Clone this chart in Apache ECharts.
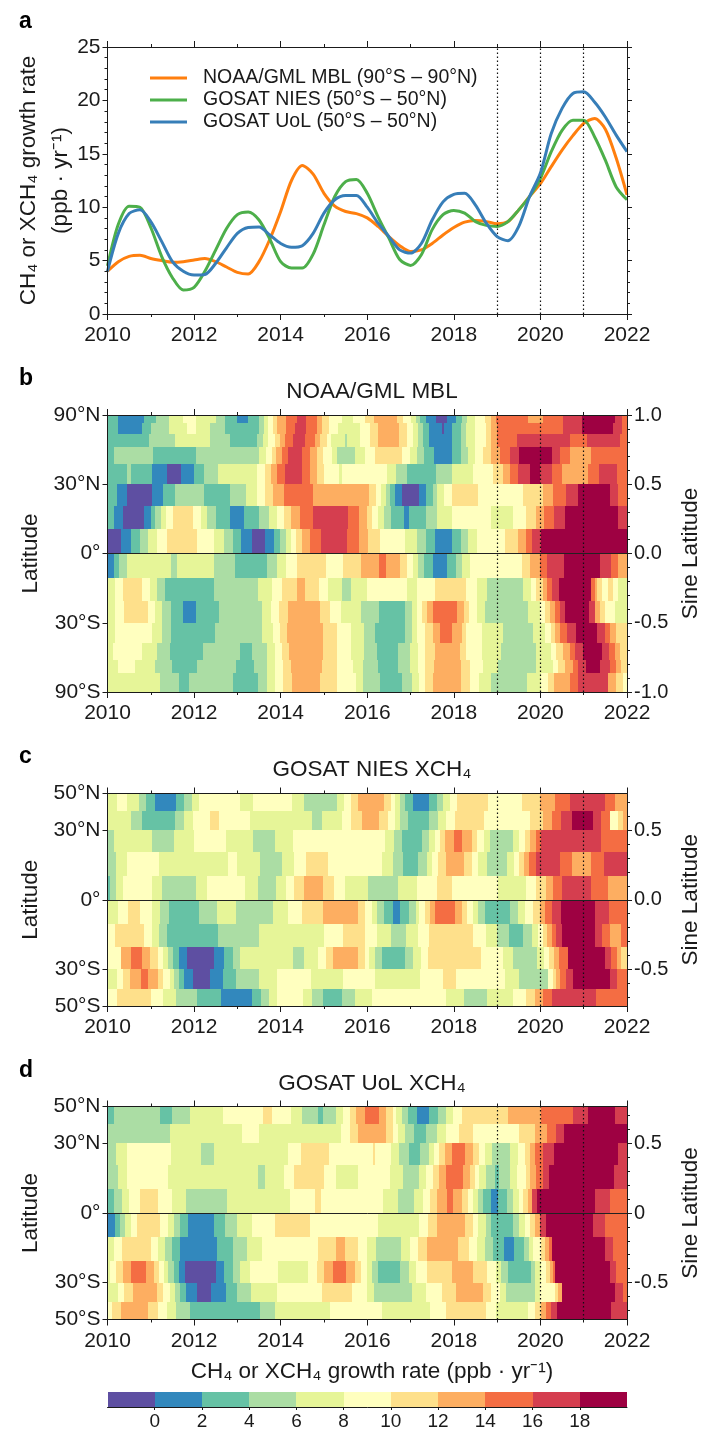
<!DOCTYPE html>
<html><head><meta charset="utf-8">
<style>html,body{margin:0;padding:0;background:#fff}#c{width:701px;height:1429px}</style>
<script src="https://cdn.jsdelivr.net/npm/echarts@6/dist/echarts.min.js"></script>
</head><body><div id="c"></div>
<script>
// ---------- panel a : growth-rate curves, read every quarter from Jan 2010 to Jan 2022 ----------
const noaaValues=[4,4.9,5.4,5.5,5.2,5,4.85,4.9,5.05,5.2,4.9,4.4,3.9,3.75,4.9,7,9.6,12.5,13.9,13.1,11.3,10.1,9.6,9.4,9,8.2,7.25,6.4,5.85,6,6.6,7.4,8.1,8.6,8.75,8.65,8.45,8.65,9.75,11,12.2,13.8,15.35,16.7,17.85,18.3,17.3,14.6,11.15];
const niesValues=[4.5,8.4,10.1,10,8.1,5.4,3.4,2.25,2.5,4,6,8,9.3,9.55,8.8,7,4.9,4.3,4.3,5.6,8.35,11,12.4,12.6,11.3,9.1,7.1,5.1,4.55,5.55,7.9,9.3,9.7,9.45,8.65,8.3,8.2,8.65,9.75,11,12.7,15.2,17.2,18.15,18.15,16.6,14.4,11.9,10.7];
const uolValues=[4,7.55,9.4,9.75,8.65,6.8,4.9,4,3.65,3.7,4.75,6.2,7.55,8.1,8.15,7.4,6.6,6.25,6.4,7.55,9.45,10.7,11.1,11.1,10,8.5,7.25,6,5.7,6.6,8.8,10.5,11.2,11.3,10.2,8.5,7.25,6.85,8.2,11,13.2,16.9,19.25,20.65,20.8,19.85,18.45,16.75,15.2];
const firstYear=2010, lastYear=2022;

// ---------- heat panels : each row is value, end-month (months since Jan 2010), value, end-month ... ----------
const noaaLatEdges=[90,70,60,50,40,30,20,10,0,-10,-20,-30,-40,-50,-60,-90];
const noaaRows=[
[3,3,1,10,3,13.5,5,17,7,21,9,24.5,7,30,5,32.5,3,36,1,39,3,42,5,43.5,7,44.5,9,46,11,47,13,49.5,15,52.5,17,55,15,58,13,59.5,11,61.5,9,65,7,68,9,71.4,11,74,13,80.3,11,82,9,84.2,7,85.5,5,86.6,3,88.4,1,91,-1,94,1,96.7,3,98.4,5,99.7,7,101.8,9,104.6,11,106.4,13,107.8,15,116.6,13,120.8,15,126.3,17,131.4,19,140.6,17,142.5,15,144],
[3,3,1,9.5,3,12,5,17,7,22,9,24.5,7,28.5,5,32.5,3,42,5,43.5,7,44.5,9,46,11,47,13,49.5,15,52,17,55,15,58,13,59.5,11,61.5,9,64,7,70,9,72.7,11,75,13,80.9,11,82.9,9,84.7,7,86.1,5,87.5,3,89.2,1,92.6,-1,93.2,1,95.4,3,98.1,5,99.5,7,101.8,9,105,11,106.4,13,108,15,126.3,17,131.4,19,140,17,142.5,15,144],
[3,11.6,5,18.7,7,28.4,5,34,3,41.4,5,43.2,7,44.6,9,46.4,11,47.8,13,49.2,15,51.5,17,54.8,15,57.5,13,59,11,60.8,9,62,7,65.8,5,66.4,7,70,9,72.7,11,75,13,80.9,11,82.9,9,84.7,7,86.1,5,87.5,3,89.2,1,95.4,3,98.1,5,99.5,7,101.8,9,105,11,106.4,13,108,15,113.5,17,128.1,15,132.8,17,142,15,144],
[3,1.8,5,12.6,3,24.6,5,42.1,7,44,9,45.5,11,46.7,13,48.3,15,50.1,17,53.8,15,56.1,13,58,11,59.8,9,62.1,7,63.7,5,68.6,7,71.4,9,74.1,11,81.5,9,83.8,7,85.9,5,87.7,3,90.5,1,95.4,3,97.9,5,100,7,101.8,9,104.1,11,106.4,13,108.9,15,111.5,17,114.1,19,123.1,17,125.4,15,128.1,13,134.1,15,144],
[3,5.4,5,6.5,3,12.3,1,16.6,-1,20.4,1,24.1,3,26.8,5,30.7,7,41.4,9,43.7,11,45.2,13,46.9,15,49.2,17,53.8,15,56.1,13,58,11,60,9,64.3,7,64.9,9,77.4,7,79.9,5,83.1,3,91,5,95.4,7,101.4,9,106.9,11,109.7,13,111.7,15,113.8,17,117.2,19,119.8,17,123.3,15,126.1,13,133.2,15,136.3,17,141.1,15,144],
[3,2.6,1,5.4,-1,12.3,1,15.3,3,18.7,5,26.8,3,34,5,38.4,7,41.4,9,43.7,11,46,13,48.8,15,56.9,13,72.6,11,74.3,9,75.7,7,77.2,5,78.3,3,79.7,1,81.5,-1,86.4,1,88.3,3,90.1,5,91.4,7,93.2,9,95.6,11,102.7,9,115.2,11,120.6,13,123.5,15,127.2,17,130.4,19,139.2,17,141.5,15,144],
[3,1.7,1,4.2,-1,10.2,1,12,3,13.2,5,14.8,7,16.2,9,18.1,11,23.6,9,25.9,7,27.7,5,30.1,3,34,1,37.7,3,42.1,5,44.9,7,46.9,9,48.9,11,50.9,13,53.4,15,56.9,17,66.8,15,69.8,13,71.8,11,73.2,9,75,7,76.6,5,78.5,3,82.2,1,83.6,3,88.3,5,91.4,7,95.4,9,106.4,7,112.3,9,116,11,118.7,13,120.9,15,123.7,17,126.8,19,141.5,17,144],
[-1,3.7,1,6.5,3,8.9,5,11.1,7,13.7,9,16.6,11,24.9,9,29.4,7,32.3,5,34.7,3,36.9,1,40.1,-1,43.7,1,46.2,3,47.8,5,49.4,7,50.8,9,52.3,11,53.9,13,56,15,59.1,17,66.5,15,69.8,13,72.3,11,75.5,9,82.4,7,85.9,5,88.2,3,90.9,1,95.6,3,98.1,5,100,7,102.3,9,110.1,11,113.8,13,115.9,15,117.8,17,120.3,19,144],
[1,1.7,3,3.3,5,5.4,7,17.6,5,19.4,7,29.5,5,35.4,3,44.3,5,47.1,7,49.5,9,52.4,11,60.6,9,65.2,11,70.2,13,75.3,15,77.2,13,81,11,83.1,9,84.6,7,86.1,5,87.7,3,90.3,1,94,3,96.5,5,98.3,7,100.4,9,115,11,117.2,13,119.8,15,121.7,17,126.5,19,136.6,17,139.7,15,141.5,13,144],
[7,2.1,9,4.2,11,9.5,9,11.8,7,13.8,5,16,3,29.5,5,41.8,7,45.5,9,48.3,11,52.4,13,54.8,11,58.5,9,61.2,7,64.9,5,67.4,7,72,9,82.9,7,85.7,9,90.7,11,99.3,9,102.3,7,105.2,5,115.2,7,117.5,9,118.9,11,120.6,13,121.9,15,123.3,17,125.1,19,134.1,15,135.1,13,135.7,11,137.1,9,138.8,11,140.1,9,141.5,7,144],
[7,2.1,9,4.6,11,11.1,9,13.2,7,15,5,17.5,3,20.9,1,24.6,3,30.9,5,42.8,7,45.2,9,47.6,11,49.9,13,58.9,11,61.7,9,64.6,7,70.2,5,75.2,3,82.4,5,84.5,7,85.7,9,87.3,11,88.7,13,90.3,15,96.9,13,98.8,11,100.3,9,102.3,7,104.6,5,116.6,7,119.8,9,121.2,11,122.6,13,124,15,125.4,17,126.9,19,133.5,17,135.1,13,136.4,11,137.8,9,140.6,7,144],
[7,2.1,9,12.3,7,15,5,17.5,3,29.8,5,42.8,7,45.8,9,47.8,11,49.7,13,59.8,11,63.5,9,67.4,7,71,5,74.1,3,82.4,5,84.3,7,85.9,9,88,11,90.3,13,92.1,15,95.4,13,98.4,11,99.5,9,103.7,7,109.7,5,118,7,121.2,9,122.8,11,124,13,125.4,15,127.4,17,130,19,135.7,17,137.8,15,139.2,13,141,11,144],
[7,1.4,9,9.5,7,13.7,5,17.2,3,26.4,5,36.6,3,40,5,44.1,7,46.4,9,48.3,11,50.4,13,59.6,11,63.7,9,67.4,7,71,5,74.8,3,80.6,5,83.8,7,86.1,9,88,11,90.7,13,97.6,11,99.3,9,103.7,7,109.2,5,118.7,7,123,9,124.3,11,126.2,13,128.1,15,129.5,17,131.8,19,137.1,17,139,15,140.6,13,142,11,144],
[7,2.8,9,7.5,7,13.2,5,17.8,3,24.7,5,35.6,3,40.6,5,44.1,7,46.4,9,48.6,11,50.8,13,59.4,11,63.7,9,68.1,7,70.9,5,75,3,80.6,5,83.8,7,86.1,9,88,11,90.5,13,98.1,11,100.4,9,104.1,7,108.2,5,118.9,7,123.5,9,124.9,11,126.7,13,129,15,130.4,17,132.7,19,136.4,17,139.2,15,141,13,142.4,11,144],
[7,14.6,5,19.9,3,22.7,5,34.7,3,41.6,5,44.3,7,46.4,9,48.6,11,51.1,13,58.9,11,63.7,9,68.9,7,70.9,5,75.5,3,81.5,5,84.3,7,86.4,9,88,11,90.3,13,97.9,11,100.4,9,103,7,106.2,5,116.2,7,120.3,9,122.1,11,123.9,13,128.1,15,130.4,17,138.8,13,141,11,143,9,144]
];
const xch4LatEdges=[50,40,30,20,10,0,-10,-20,-30,-40,-50];
const niesRows=[
[7,2.6,9,5.5,7,8.8,5,10.8,3,13.2,1,18.9,3,21.2,5,23.4,7,25.5,9,36.6,7,40.2,9,51.2,7,54.5,5,63.5,7,65.6,9,67.4,11,69.3,13,76.6,11,78.5,9,79.7,7,81.2,5,82.6,3,84.6,1,89.2,3,91.4,5,93,7,94.9,9,96.9,11,105.5,9,115,11,119.8,13,124,15,128.3,17,137.8,15,140.6,13,144],
[7,6.6,5,9.5,3,18.7,5,21.2,7,23.8,9,28.4,11,30.9,9,39.5,7,56.6,5,59.4,7,64.9,9,67.4,11,70.5,13,75.3,11,77.8,9,79.7,7,81.2,5,83.4,3,89.2,5,91.7,7,93.7,9,96.3,11,104.3,9,117.2,11,120.6,13,123.3,15,125.8,17,128.8,19,134.6,17,136.9,15,139.4,9,141.5,11,143,13,144],
[5,1.7,7,12.3,5,18.5,7,24,9,32.9,7,40.4,5,46.4,7,51.3,9,76.9,7,79.4,5,81.7,3,87.3,5,89.2,7,90.7,9,92.1,11,93.5,13,96,15,98.4,13,100.9,11,102.5,9,104.3,7,106,5,112.4,7,114.1,9,115.7,11,117,13,118.7,15,120.3,17,136.9,15,144],
[5,2.3,7,5.4,9,14.3,7,33.5,9,36,7,42.3,5,48.3,7,51.7,9,54.9,11,61,9,76.2,7,79,5,82,3,86.1,5,88.5,7,90,9,91.6,11,93.9,13,98.9,11,101.1,9,102.7,7,105.1,5,110.8,7,112.6,9,114.1,11,115.4,13,116.9,15,118.7,17,125.3,15,128.8,13,134.1,15,137.5,17,144],
[3,0.7,5,2.3,7,4.2,9,12.3,7,15,5,24.5,7,27.5,9,38,7,41.6,5,46.6,7,49.4,9,51.7,11,54.5,13,59.6,11,62.8,9,65.8,7,72.3,5,80.4,7,85.9,9,91.4,11,95.5,9,108.3,7,116.1,9,118.9,11,121.5,13,123.5,15,126,17,133.9,15,138.6,13,144],
[7,2.8,9,5.8,11,9,9,12.3,7,14.6,5,17.1,3,25.5,5,30.3,7,35.6,5,46,7,49.9,9,53.8,11,59.8,13,69.3,11,71.4,9,73.2,7,74.8,5,76.6,3,79,1,81.2,3,83.6,5,85.6,7,86.4,9,88,11,89.4,13,90.9,15,96.4,13,98.2,11,99.7,9,101.2,7,102.8,5,104.6,3,111.5,5,113.8,7,115.8,9,117.9,11,119.8,13,121.4,15,123.2,17,125.8,19,135.1,17,139,15,144],
[9,2,11,10,9,12.3,7,14.4,5,16.6,3,30.5,5,42.1,7,60.1,9,65.2,11,71.4,9,74.8,7,78.5,5,82.7,7,86.1,9,89.2,11,101.4,9,104.9,7,108,5,111.4,3,115.3,5,117.8,7,119.4,9,120.6,11,121.7,13,123.1,15,124.4,17,126,19,135.1,17,137.1,15,139.2,13,142.2,15,144],
[9,3.8,13,6.5,15,9.5,13,11.9,11,13.9,9,15.3,7,16.9,5,18.1,3,19.8,1,22.1,-1,29.4,1,32.4,3,34.9,5,36.8,7,51.5,5,54.5,7,58.4,9,60.5,11,62.5,13,69.3,11,71.4,9,72.6,7,74.1,5,76,3,82.6,5,84.6,7,86.8,9,88.9,11,103.4,9,109.5,7,112.3,5,119.1,7,120.9,9,122.4,11,123.7,13,125.1,15,127.7,19,137.8,17,139.7,15,141.2,13,142.4,11,144],
[7,2.6,9,4.2,11,6.2,13,9.2,15,11.1,13,13.9,11,15.5,9,17.2,7,18.5,5,19.7,3,21.2,1,23.6,-1,28.4,1,32,3,35.6,5,42.1,7,46.9,9,56.3,7,65.2,9,74.1,7,86.6,9,92.9,11,96.5,9,110.1,7,114.1,5,122.1,9,123.5,11,124.4,13,125.4,15,127,17,128.9,19,139.4,17,141.1,15,144],
[9,2.6,11,12,9,15.3,7,19,5,24.9,3,31.4,1,40,3,42.6,5,44.8,7,47.1,9,54.1,7,56.6,5,59.6,3,65.1,5,68.6,7,73.2,9,93.8,7,98.8,5,105.1,7,112.3,9,116,11,118.4,13,120.6,15,123.1,17,135.5,15,144]
];
const uolRows=[
[3,1.9,5,14.6,3,17.8,5,22.9,7,32.1,9,43.2,11,45.7,9,50.8,7,53.8,5,58.3,3,59.6,5,63.3,7,65.2,9,67.2,11,68.9,13,71.4,15,75.2,13,77.3,11,79,9,80.1,7,81.7,5,83.2,3,85.7,1,89.2,3,91.7,5,93.7,7,95.8,9,98.4,11,110.9,13,120.1,15,129,17,133.2,19,140.8,17,144],
[5,17.2,7,37.2,9,42,7,64.6,9,67.2,11,69.5,13,77.2,11,79.2,9,80.6,7,82.4,5,85,3,88.2,5,91.4,7,93.7,9,97.4,11,101.4,9,114.1,11,118.6,13,121.9,15,124.3,17,126.6,19,144],
[5,2.3,7,5.4,9,17.6,7,25.9,5,29.6,7,50.1,9,53.6,11,61.4,9,73.5,11,74.2,9,78.6,7,80.9,5,83.6,3,86.6,5,89.1,7,90.5,9,91.9,11,93.5,13,95.6,15,99,13,101.4,11,103,9,104.6,7,106.6,5,111.7,7,113.8,9,115.7,11,117,13,118.6,15,120.6,17,123.7,19,141.5,17,144],
[5,2.8,7,5.5,9,16.7,7,41.6,5,43.7,7,48.8,9,51.7,11,60,9,63.3,7,69.5,9,70.7,9,78.3,7,81.8,5,86.3,7,88.4,9,90.3,11,91.8,13,93.7,15,98.6,13,100.4,11,101.8,9,103,7,104.8,5,107.4,3,108.6,5,111.5,7,113.4,9,115.9,11,117.2,13,118.9,15,120.6,17,122.4,19,140.3,17,144],
[3,1.9,5,4,7,6,9,9,11,13.9,9,18,7,21.8,5,33.2,7,50.6,9,57.5,11,59.1,9,76.4,7,80.4,5,84.9,7,87.5,9,89.4,11,91.2,13,94,15,95.8,13,98.4,11,100,9,101.4,7,102.8,5,104.1,3,106.4,1,108.3,3,110.8,5,112.5,7,114.1,9,115.2,11,116.6,13,117.8,17,119.1,19,135.1,17,139.4,15,144],
[1,2.1,3,3.5,5,4.9,7,6.5,9,8.3,11,14.6,9,16.9,7,18.5,5,20.1,3,22.4,1,29.5,3,32.6,5,35.8,7,40,9,46.4,11,56,9,75,7,86.4,9,88.9,11,91.2,13,99.2,11,101.2,9,102.7,7,104.9,5,106.2,3,112.4,5,114.1,7,115.7,9,117.1,11,118.6,13,120,17,121.5,19,134.6,17,138,15,144],
[7,1.7,9,4,11,12,9,13.9,7,15.8,5,17.8,3,20.1,1,30.3,3,34.9,5,38.6,7,42.7,9,58.4,11,63.3,13,65.8,11,69.5,9,71.8,7,74.3,5,81.3,7,83.8,9,86.1,11,88.7,13,97.2,11,100.2,9,102.3,7,104.6,5,106.9,3,109.9,1,112.7,3,115.4,5,116.9,7,118,9,120.3,11,121.2,13,122.4,15,123.3,19,137.8,17,140,15,144],
[7,0.7,9,2.3,11,4.2,13,6.5,15,10.6,13,12.9,11,14.4,9,15.7,7,16.9,5,18.3,3,19.7,1,21.5,-1,30.1,1,32.4,3,34.7,5,36.8,7,39.5,9,47.2,7,55.7,9,58,11,59.9,13,62.5,15,66.1,13,68.6,11,70.2,9,72,7,73.2,5,75,3,81,5,83.5,7,85.6,9,88.6,11,95.6,13,101.4,11,105.1,9,107.7,7,109,5,110.9,3,117.3,5,118.4,7,120.3,9,121.5,11,122.6,13,123.5,15,124,19,139.2,17,140.9,15,144],
[7,2.8,9,4.7,11,7,13,13.7,11,15.5,9,17.2,7,18.6,5,20.1,3,21.8,1,24.7,-1,28.7,1,32.9,3,36,5,39.7,7,46.9,9,59.4,11,67.9,9,72,7,73.8,5,84.3,7,88.4,9,92.6,11,96.5,13,104.1,11,106.4,9,108.9,7,110.4,5,118.6,7,119.8,9,124,11,124.9,13,126.1,19,140.6,17,142.9,15,144],
[9,1.2,11,3.8,13,11.1,11,13.9,9,16.5,7,19,5,22.9,3,42.3,5,46.4,7,61.7,9,76.2,7,89.4,9,93.8,11,104.9,9,107.6,7,116.6,9,118.4,11,120.3,13,121.5,15,123,17,124.7,19,139.7,17,144]
];

// ---------- colour classes ----------
const classEdges=[-2,0,2,4,6,8,10,12,14,16,18,20];
const classColors=['#5e4fa2','#3288bd','#66c2a5','#abdda4','#e6f598','#ffffbf','#fee08b','#fdae61','#f46d43','#d53e4f','#9e0142'];
const dottedYears=[2019,2020,2021];
const colorOf=v=>classColors[classEdges.findIndex((e,i)=>v>=e&&v<classEdges[i+1])];

const FONT="'Liberation Sans',Arial,sans-serif", INK='#1a1a1a', FS=21, NAMEFS=22.5;
const sinD=d=>Math.sin(d*Math.PI/180);
const latLabel=v=>{const d=Math.round(Math.asin(v)*180/Math.PI);return d===0?'0°':Math.abs(d)+(d>0?'°N':'°S');};

const grids=[],xAxes=[],yAxes=[],series=[];
function addGrid(top,bottom){
  grids.push({left:107.5,width:519.5,top:top,height:bottom-top,outerBoundsMode:'none',containLabel:false});return grids.length-1;
}
function addXAxes(g){
  const base=(pos,lab)=>({type:'value',gridIndex:g,position:pos,min:firstYear,max:lastYear,interval:2,z:6,
    axisLine:{show:true,onZero:false,lineStyle:{color:INK,width:1}},
    axisTick:{show:true,length:6,lineStyle:{color:INK,width:1}},
    minorTick:{show:true,splitNumber:2,length:3,lineStyle:{color:INK,width:1}},
    splitLine:{show:false},
    axisLabel:{show:lab,margin:11,color:INK,fontFamily:FONT,fontSize:FS,hideOverlap:false,showMinLabel:true,showMaxLabel:true,formatter:v=>String(v)}});
  xAxes.push(base('bottom',true));const i=xAxes.length-1;xAxes.push(base('top',false));return i;
}
function markLines(extraY){
  const d=dottedYears.map(y=>({xAxis:y,lineStyle:{type:[1.5,2.5],color:'#111',width:1.2}}));
  if(extraY) d.push({yAxis:0,lineStyle:{type:'solid',color:'#222',width:1}});
  return {silent:true,symbol:'none',label:{show:false},animation:false,data:d};
}
function heatPanel(top,bottom,edgeDeg,rows,leftTicksDeg,rightVals,rightFmt){
  const g=addGrid(top,bottom),xi=addXAxes(g);
  const ymax=sinD(edgeDeg[0]),ymin=sinD(edgeDeg[edgeDeg.length-1]);
  const lv=leftTicksDeg.map(sinD);
  const common={type:'value',gridIndex:g,min:ymin,max:ymax,z:6,splitLine:{show:false},minorTick:{show:false}};
  const yi=yAxes.length;
  yAxes.push({...common,position:'left',name:'Latitude',nameLocation:'middle',nameRotate:90,nameGap:61,
    nameTextStyle:{color:INK,fontFamily:FONT,fontSize:NAMEFS},
    axisLine:{show:true,onZero:false,lineStyle:{color:INK}},
    axisTick:{show:true,length:5,customValues:lv,lineStyle:{color:INK}},
    axisLabel:{show:true,margin:7,color:INK,fontFamily:FONT,fontSize:FS,customValues:lv,formatter:latLabel}});
  yAxes.push({...common,position:'right',name:'Sine Latitude',nameLocation:'middle',nameRotate:90,nameGap:51,
    nameTextStyle:{color:INK,fontFamily:FONT,fontSize:NAMEFS},
    axisLine:{show:true,onZero:false,lineStyle:{color:INK}},
    axisTick:{show:true,length:5,customValues:rightVals,lineStyle:{color:INK}},
    axisLabel:{show:true,margin:7,color:INK,fontFamily:FONT,fontSize:FS-1,customValues:rightVals,formatter:rightFmt}});
  const minorVals=[-.9,-.8,-.7,-.6,-.4,-.3,-.2,-.1,.1,.2,.3,.4,.6,.7,.8,.9].filter(v=>v>ymin&&v<ymax);
  yAxes.push({...common,position:'right',axisLine:{show:false},
    axisTick:{show:true,length:3,customValues:minorVals,lineStyle:{color:INK}},axisLabel:{show:false}});
  const cells=[];
  rows.forEach((row,r)=>{let start=0;
    for(let i=0;i<row.length;i+=2){
      cells.push([firstYear+start/12,firstYear+row[i+1]/12,sinD(edgeDeg[r+1]),sinD(edgeDeg[r]),row[i]]);
      start=row[i+1];
    }});
  series.push({type:'custom',xAxisIndex:xi,yAxisIndex:yi,data:cells,silent:true,animation:false,clip:false,z:2,
    encode:{x:[0,1],y:[2,3]},
    renderItem:(p,api)=>{
      const a=api.coord([api.value(0),api.value(3)]),b=api.coord([api.value(1),api.value(2)]);
      const x0=Math.round(a[0]),x1=Math.round(b[0]),y0=Math.round(a[1]),y1=Math.round(b[1]);
      return {type:'rect',shape:{x:x0,y:y0,width:x1-x0,height:y1-y0},style:{fill:colorOf(api.value(4))}};
    },
    markLine:markLines(true)});
}

// panel a
(function(){
  const g=addGrid(47,314),xi=addXAxes(g);
  const side=(pos,lab)=>({type:'value',gridIndex:g,position:pos,min:0,max:25,interval:5,z:6,splitLine:{show:false},
    axisLine:{show:true,onZero:false,lineStyle:{color:INK}},
    axisTick:{show:true,length:5,lineStyle:{color:INK}},
    minorTick:{show:true,splitNumber:5,length:3,lineStyle:{color:INK}},
    axisLabel:{show:lab,margin:7,color:INK,fontFamily:FONT,fontSize:FS}});
  yAxes.push({...side('left',true),name:'CH₄ or XCH₄ growth rate\n(ppb · yr⁻¹)',nameLocation:'middle',nameRotate:90,nameGap:31,nameMoveOverlap:false,
    nameTextStyle:{color:INK,fontFamily:FONT,fontSize:NAMEFS,lineHeight:32}});
  yAxes.push(side('right',false));
  const yi=yAxes.length-2;
  const pts=v=>v.map((y,i)=>[firstYear+i/4,y]);
  [['NOAA/GML MBL (90°S – 90°N)',noaaValues,'#ff7f0e'],['GOSAT NIES (50°S – 50°N)',niesValues,'#4daf4a'],['GOSAT UoL (50°S – 50°N)',uolValues,'#377eb8']].forEach((s,i)=>{
    series.push({type:'line',name:s[0],xAxisIndex:xi,yAxisIndex:yi,data:pts(s[1]),smooth:0.28,showSymbol:false,symbol:'none',animation:false,silent:true,z:3+i,
      lineStyle:{color:s[2],width:3},itemStyle:{color:s[2]},
      ...(i===0?{markLine:markLines(false)}:{})});
  });
})();
heatPanel(415,692,noaaLatEdges,noaaRows,[90,30,0,-30,-90],[1,.5,0,-.5,-1],v=>v.toFixed(1));
heatPanel(793.5,1006,xch4LatEdges,niesRows,[50,30,0,-30,-50],[.5,0,-.5],v=>v.toFixed(1));
heatPanel(1106.5,1319.5,xch4LatEdges,uolRows,[50,30,0,-30,-50],[.5,0,-.5],v=>v===0?'0':v.toFixed(1));

// colour bar
(function(){
  const g=addGrid(1392,1407);
  const ticks=classEdges.slice(1,-1);
  xAxes.push({type:'value',gridIndex:g,position:'bottom',min:-2,max:20,interval:2,z:6,splitLine:{show:false},
    axisLine:{show:true,onZero:false,lineStyle:{color:INK}},
    axisTick:{show:true,inside:false,length:3,customValues:ticks,lineStyle:{color:INK}},
    axisLabel:{show:true,margin:5,color:INK,fontFamily:FONT,fontSize:FS-2,customValues:ticks}});
  yAxes.push({type:'value',gridIndex:g,min:0,max:1,show:false});
  const cells=classColors.map((c,i)=>[classEdges[i],classEdges[i+1],(classEdges[i]+classEdges[i+1])/2]);
  series.push({type:'custom',xAxisIndex:xAxes.length-1,yAxisIndex:yAxes.length-1,data:cells,silent:true,animation:false,encode:{x:[0,1]},
    renderItem:(p,api)=>{
      const a=api.coord([api.value(0),1]),b=api.coord([api.value(1),0]);
      const x0=Math.round(a[0]),x1=Math.round(b[0]);
      return {type:'rect',shape:{x:x0,y:a[1],width:x1-x0,height:b[1]-a[1]},style:{fill:colorOf(api.value(2))}};
    }});
})();

const letter=(t,top)=>({text:t,left:14,top:top,textStyle:{fontFamily:FONT,fontSize:23,fontWeight:'bold',color:'#000'}});
const head=(t,top)=>({text:t,left:367,top:top,textAlign:'center',textStyle:{fontFamily:FONT,fontSize:NAMEFS,fontWeight:'normal',color:INK}});
const chart=echarts.init(document.getElementById('c'),null,{renderer:'canvas'});
chart.setOption({animation:false,backgroundColor:'#fff',
  title:[letter('a',5),letter('b',362),letter('c',740),letter('d',1054),
    head('NOAA/GML MBL',375),head('GOSAT NIES XCH₄',753),head('GOSAT UoL XCH₄',1067),head('CH₄ or XCH₄ growth rate (ppb · yr⁻¹)',1355)],
  legend:{show:true,orient:'vertical',left:145,top:63,icon:'rect',itemWidth:37,itemHeight:3,itemGap:2,selectedMode:false,
    textStyle:{fontFamily:FONT,fontSize:19.5,color:INK,padding:[0,0,0,11]},
    data:['NOAA/GML MBL (90°S – 90°N)','GOSAT NIES (50°S – 50°N)','GOSAT UoL (50°S – 50°N)']},
  grid:grids,xAxis:xAxes,yAxis:yAxes,series:series});
</script></body></html>
